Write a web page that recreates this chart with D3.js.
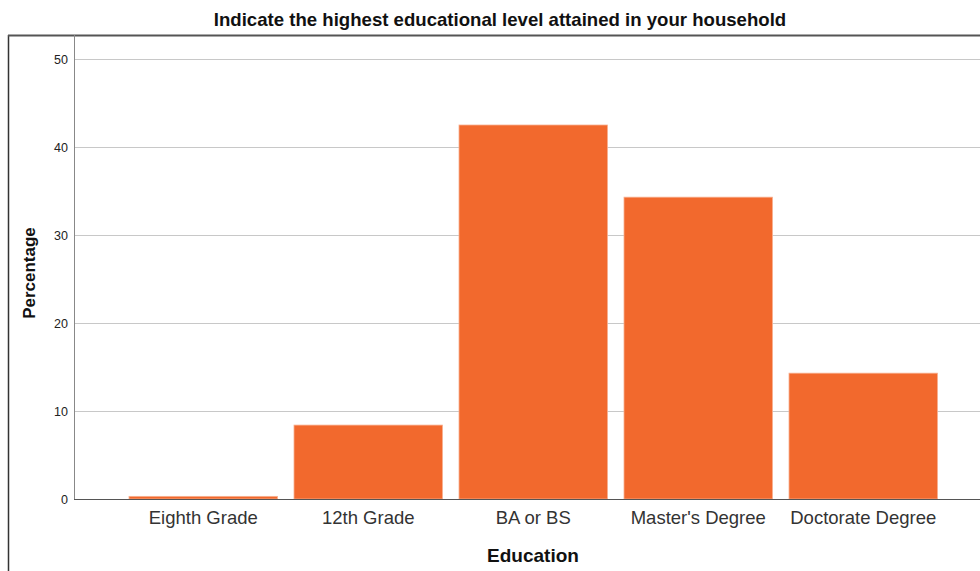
<!DOCTYPE html>
<html><head><meta charset="utf-8">
<script src="https://cdn.jsdelivr.net/npm/d3@7"></script>
<style>body{margin:0;background:#fff;} svg{display:block;font-family:"Liberation Sans",Arial,sans-serif;}</style>
</head><body>
<script>
const categories = ["Eighth Grade","12th Grade","BA or BS","Master's Degree","Doctorate Degree"];
const values = [0.3, 8.4, 42.5, 34.3, 14.3];
const yTicks = [0,10,20,30,40,50];
const title = "Indicate the highest educational level attained in your household";

const W = 980, H = 571;
const svg = d3.select("body").append("svg").attr("width", W).attr("height", H);

const x = d3.scaleBand().domain(categories).range([120.75, 945.75]).paddingInner(0.1).paddingOuter(0.05);
const y = d3.scaleLinear().domain([0, 50]).range([499, 59]);

// outer frame
svg.append("line").attr("x1",8.5).attr("x2",8.5).attr("y1",35).attr("y2",H).attr("stroke","#333").attr("stroke-width",1.5);
svg.append("line").attr("x1",8).attr("x2",W).attr("y1",35.5).attr("y2",35.5).attr("stroke","#555").attr("stroke-width",2);

// gridlines
svg.append("g").selectAll("line").data(yTicks.filter(d=>d>0)).join("line")
  .attr("x1",74).attr("x2",W).attr("y1",d=>Math.round(y(d))+0.5).attr("y2",d=>Math.round(y(d))+0.5)
  .attr("stroke","#c8c8c8").attr("stroke-width",1);

// y axis
const yAxis = d3.axisLeft(y).tickValues(yTicks).tickSize(0).tickPadding(6);
const gy = svg.append("g").attr("transform","translate(74,0)").call(yAxis);
gy.select(".domain").remove();
gy.selectAll("text").attr("font-size",12.5).attr("fill","#222").attr("font-family","Liberation Sans, Arial, sans-serif");
svg.append("line").attr("x1",74.5).attr("x2",74.5).attr("y1",35).attr("y2",499).attr("stroke","#888").attr("stroke-width",1);

// bars
svg.append("g").selectAll("rect").data(values).join("rect")
  .attr("x",(d,i)=>x(categories[i]))
  .attr("width",x.bandwidth())
  .attr("y",d=>y(d))
  .attr("height",d=>y(0)-y(d))
  .attr("fill","#f2692d")
  .attr("stroke","#f8b090").attr("stroke-width",0.8);

// x axis
const xAxis = d3.axisBottom(x).tickSize(0).tickPadding(12);
const gx = svg.append("g").attr("transform","translate(0,499)").call(xAxis);
gx.select(".domain").remove();
gx.selectAll("text").attr("font-size",18.5).attr("fill","#333").attr("font-family","Liberation Sans, Arial, sans-serif");
svg.append("line").attr("x1",74).attr("x2",W).attr("y1",499.5).attr("y2",499.5).attr("stroke","#555").attr("stroke-width",1);

// titles
svg.append("text").attr("x",500).attr("y",26).attr("text-anchor","middle")
  .attr("font-size",18.6).attr("font-weight","bold").attr("fill","#111").text(title);
svg.append("text").attr("x",533).attr("y",562).attr("text-anchor","middle")
  .attr("font-size",19).attr("font-weight","bold").attr("fill","#111").text("Education");
svg.append("text").attr("transform","translate(35,273) rotate(-90)").attr("text-anchor","middle")
  .attr("font-size",17).attr("font-weight","bold").attr("fill","#111").text("Percentage");
</script>
</body></html>
